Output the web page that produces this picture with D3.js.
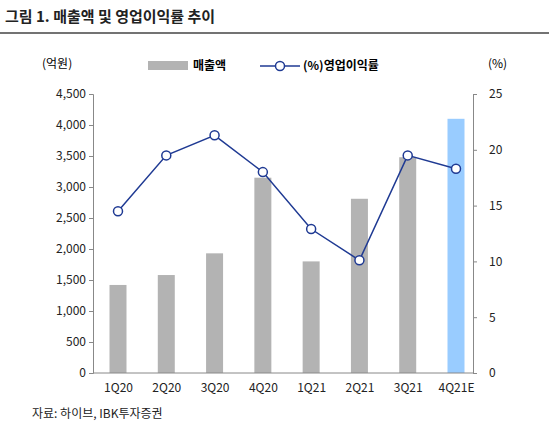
<!DOCTYPE html><html><head><meta charset="utf-8"><script src="https://cdn.jsdelivr.net/npm/d3@7"></script>
<style>body{margin:0;background:#fff}text{font-family:"Noto Sans CJK KR","Noto Sans",sans-serif}</style></head><body><svg id="c" width="549" height="434"></svg>
<script>
const categories=["1Q20","2Q20","3Q20","4Q20","1Q21","2Q21","3Q21","4Q21E"];
const sales=[1420,1580,1930,3150,1800,2810,3480,4100];
const margin=[14.5,19.5,21.3,18.0,12.9,10.1,19.5,18.3];
const leftTicks=[0,500,1000,1500,2000,2500,3000,3500,4000,4500];
const rightTicks=[0,5,10,15,20,25];
const svg=d3.select("#c");
svg.append("text").attr("x",5).attr("y",22).attr("font-size",15).attr("font-weight","bold").attr("fill","#222").text("그림 1. 매출액 및 영업이익률 추이");
svg.append("line").attr("x1",0).attr("x2",549).attr("y1",33).attr("y2",33).attr("stroke","#444").attr("stroke-width",1.5);
const L=93,R=473,T=94,B=373,BW=17;
const x=d3.scalePoint().domain(categories).range([L+25,R-17]);
const y=d3.scaleLinear().domain([0,4500]).range([B,T]);
const y2=d3.scaleLinear().domain([0,25]).range([B,T]);
svg.selectAll(".bar").data(sales).join("rect").attr("x",(d,i)=>x(categories[i])-BW/2).attr("width",BW).attr("y",d=>y(d)).attr("height",d=>B-y(d)).attr("fill",(d,i)=>i==7?"#99ccff":"#b3b3b3");
const ax=svg.append("g").attr("transform",`translate(0,${B})`).call(d3.axisBottom(x).tickSize(0).tickPadding(10));
ax.select(".domain").attr("d",`M${L},0H${R}`);
const al=svg.append("g").attr("transform",`translate(${L},0)`).call(d3.axisLeft(y).tickValues(leftTicks).tickFormat(d3.format(",")).tickSize(4));
const ar=svg.append("g").attr("transform",`translate(${R},0)`).call(d3.axisRight(y2).tickValues(rightTicks).tickSize(4).tickPadding(12));
[ax,al,ar].forEach(g=>{g.selectAll("text").attr("font-size",12).attr("fill","#222").attr("font-family","Noto Sans, sans-serif");g.selectAll("line,.domain").attr("stroke","#888");});
const cx=(i)=>x(categories[i]);
svg.append("path").datum(margin).attr("d",d3.line().x((d,i)=>cx(i)).y(d=>y2(d))).attr("fill","none").attr("stroke","#1f3a93").attr("stroke-width",1.5);
svg.selectAll(".pt").data(margin).join("circle").attr("cx",(d,i)=>cx(i)).attr("cy",d=>y2(d)).attr("r",4.5).attr("fill","#fff").attr("stroke","#1f3a93").attr("stroke-width",1.5);
svg.append("text").attr("x",42).attr("y",68).attr("font-size",12).text("(억원)");
svg.append("text").attr("x",488).attr("y",68).attr("font-size",12).text("(%)");
svg.append("rect").attr("x",148).attr("y",61).attr("width",40).attr("height",9).attr("fill","#b3b3b3");
svg.append("text").attr("x",193).attr("y",70).attr("font-size",12).attr("font-weight","bold").text("매출액");
svg.append("line").attr("x1",260).attr("x2",300).attr("y1",66).attr("y2",66).attr("stroke","#1f3a93").attr("stroke-width",1.5);
svg.append("circle").attr("cx",280).attr("cy",66).attr("r",4.5).attr("fill","#fff").attr("stroke","#1f3a93").attr("stroke-width",1.5);
svg.append("text").attr("x",303).attr("y",70).attr("font-size",12).attr("font-weight","bold").text("(%)영업이익률");
svg.append("text").attr("x",32).attr("y",418).attr("font-size",12).attr("fill","#222").text("자료: 하이브, IBK투자증권");
</script></body></html>
